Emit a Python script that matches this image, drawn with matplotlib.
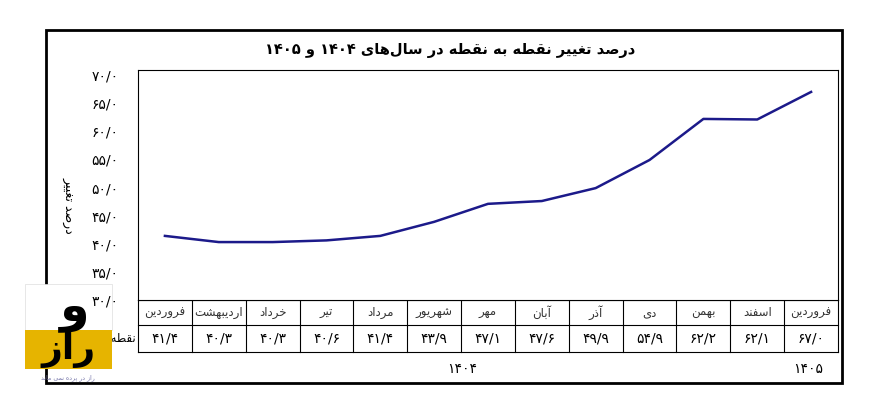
import matplotlib.pyplot as plt
from matplotlib.patches import Rectangle

plt.rcParams['font.family'] = ['DejaVu Sans']

months = ["فروردین", "اردیبهشت", "خرداد", "تیر", "مرداد", "شهریور", "مهر",
          "آبان", "آذر", "دی", "بهمن", "اسفند", "فروردین"]
values = [41.4, 40.3, 40.3, 40.6, 41.4, 43.9, 47.1, 47.6, 49.9, 54.9, 62.2, 62.1, 67.0]
yticks = [30, 35, 40, 45, 50, 55, 60, 65, 70]
title = "درصد تغییر نقطه به نقطه در سال‌های ۱۴۰۴ و ۱۴۰۵"
ylabel = "درصد تغییر"
row_label = "نقطه به نقطه"
years = ["۱۴۰۴", "۱۴۰۵"]

# minimal Arabic/Persian shaping: (isolated, final, initial, medial)
FORMS = {
    'ا': (0xFE8D, 0xFE8E, None, None), 'آ': (0xFE81, 0xFE82, None, None),
    'ب': (0xFE8F, 0xFE90, 0xFE91, 0xFE92), 'ت': (0xFE95, 0xFE96, 0xFE97, 0xFE98),
    'ح': (0xFEA1, 0xFEA2, 0xFEA3, 0xFEA4), 'خ': (0xFEA5, 0xFEA6, 0xFEA7, 0xFEA8),
    'د': (0xFEA9, 0xFEAA, None, None), 'ذ': (0xFEAB, 0xFEAC, None, None),
    'ر': (0xFEAD, 0xFEAE, None, None), 'ز': (0xFEAF, 0xFEB0, None, None),
    'س': (0xFEB1, 0xFEB2, 0xFEB3, 0xFEB4), 'ش': (0xFEB5, 0xFEB6, 0xFEB7, 0xFEB8),
    'ص': (0xFEB9, 0xFEBA, 0xFEBB, 0xFEBC), 'ط': (0xFEC1, 0xFEC2, 0xFEC3, 0xFEC4),
    'غ': (0xFECD, 0xFECE, 0xFECF, 0xFED0), 'ف': (0xFED1, 0xFED2, 0xFED3, 0xFED4),
    'ق': (0xFED5, 0xFED6, 0xFED7, 0xFED8), 'ل': (0xFEDD, 0xFEDE, 0xFEDF, 0xFEE0),
    'م': (0xFEE1, 0xFEE2, 0xFEE3, 0xFEE4), 'ن': (0xFEE5, 0xFEE6, 0xFEE7, 0xFEE8),
    'ه': (0xFEE9, 0xFEEA, 0xFEEB, 0xFEEC), 'و': (0xFEED, 0xFEEE, None, None),
    'ی': (0xFEEF, 0xFEF0, 0xFEF3, 0xFEF4), 'پ': (0xFB56, 0xFB57, 0xFB58, 0xFB59),
}


def shape(s):
    out = []
    for i, ch in enumerate(s):
        if ch not in FORMS:
            if ch != '\u200c':
                out.append(ch)
            continue
        prev = s[i - 1] if i > 0 else ''
        nxt = s[i + 1] if i + 1 < len(s) else ''
        jp = prev in FORMS and FORMS[prev][2] is not None
        jn = FORMS[ch][2] is not None and nxt in FORMS
        iso, fin, ini, med = FORMS[ch]
        code = med if (jp and jn) else fin if jp else ini if jn else iso
        out.append(chr(code))
    vis = ''.join(out)[::-1]
    # keep digit runs left to right
    res, run = [], ''
    for ch in vis:
        if ch in '۰۱۲۳۴۵۶۷۸۹/':
            run += ch
        else:
            res.append(run[::-1]); run = ''
            res.append(ch)
    res.append(run[::-1])
    return ''.join(res)


def fa(x):
    s = f"{x:.1f}".replace('.', '/')
    return s.translate(str.maketrans('0123456789', '۰۱۲۳۴۵۶۷۸۹'))


W, H = 885, 413
fig = plt.figure(figsize=(W / 100, H / 100), dpi=100)
bg = fig.add_axes([0, 0, 1, 1])
bg.set_xlim(0, W); bg.set_ylim(H, 0); bg.axis('off')

x0, x1, ytop, ybot = 138, 838, 70, 300
ax = fig.add_axes([x0 / W, 1 - ybot / H, (x1 - x0) / W, (ybot - ytop) / H])
n = len(values)
ax.plot(range(n), values, color='#1c1a8a', lw=1.8)
ax.set_xlim(-0.5, n - 0.5)
ax.set_ylim(30, 70.9)
ax.set_xticks([])
ax.set_yticks(yticks)
ax.set_yticklabels([fa(v) for v in yticks], fontsize=10)
ax.tick_params(axis='y', length=0, pad=14)
for sp in ax.spines.values():
    sp.set_linewidth(0.8)

# outer frame
bg.add_patch(Rectangle((46, 30), 796, 353, fill=False, lw=2, ec='black'))
bg.text(450, 50, shape(title), ha='center', va='center', fontsize=10.5, fontweight='bold')
bg.text(68, 205, shape(ylabel), rotation=-90, ha='center', va='center', fontsize=9)

# table
cw = (x1 - x0) / n
r0, r1, r2 = 300, 325, 352
for y in (r0, r1, r2):
    bg.plot([x0, x1], [y, y], color='black', lw=0.8)
for i in range(n + 1):
    bg.plot([x0 + i * cw] * 2, [r0, r2], color='black', lw=0.8)
for i in range(n):
    cx = x0 + (i + 0.5) * cw
    bg.text(cx, (r0 + r1) / 2, shape(months[i]), ha='center', va='center', fontsize=8.5, color='#333333')
    bg.text(cx, (r1 + r2) / 2, fa(values[i]), ha='center', va='center', fontsize=10)
bg.text(x0 - 2, (r1 + r2) / 2, shape(row_label), ha='right', va='center', fontsize=8.5)
bg.text(462, 369, years[0], ha='center', va='center', fontsize=10)
bg.text(808, 369, years[1], ha='center', va='center', fontsize=10)

# logo
bg.add_patch(Rectangle((25, 284), 87, 46, fc='white', ec='#dddddd', lw=0.5, zorder=5))
bg.add_patch(Rectangle((25, 330), 87, 39, fc='#e6b400', ec='none', zorder=5))
bg.text(75, 310, shape("و"), ha='center', va='center', fontsize=34, fontweight='bold', zorder=6)
bg.text(68, 350, shape("راز"), ha='center', va='center', fontsize=26, fontweight='bold', zorder=6)
bg.text(68, 378, shape("راز در پرده نمی ماند"), ha='center', va='center', fontsize=4.5, color='#7777aa', zorder=6)

fig.savefig('out.png', dpi=100)
